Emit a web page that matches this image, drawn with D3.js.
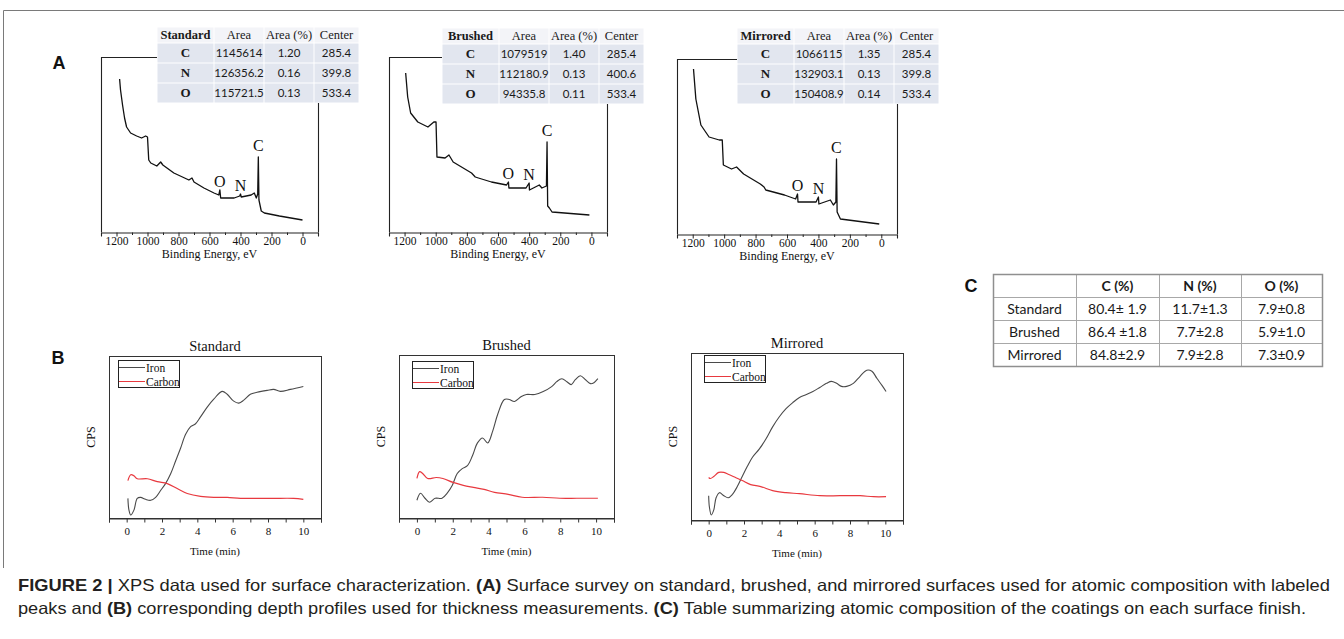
<!DOCTYPE html>
<html>
<head>
<meta charset="utf-8">
<script src="https://cdn.jsdelivr.net/npm/d3@7"></script>
<style>
body { margin: 0; background: #fff; }
text { font-kerning: normal; }
</style>
</head>
<body>
<svg id="fig" width="1344" height="639"></svg>
<script>

// ---- data ----
var surfaces = ["Standard", "Brushed", "Mirrored"];
var elements = ["C", "N", "O"];
var peakColumns = ["Area", "Area (%)", "Center"];

var areaStandard = ["1145614", "126356.2", "115721.5"];
var areaPctStandard = ["1.20", "0.16", "0.13"];
var centerStandard = [285.4, 399.8, 533.4];

var areaBrushed = ["1079519", "112180.9", "94335.8"];
var areaPctBrushed = ["1.40", "0.13", "0.11"];
var centerBrushed = [285.4, 400.6, 533.4];

var areaMirrored = ["1066115", "132903.1", "150408.9"];
var areaPctMirrored = ["1.35", "0.13", "0.14"];
var centerMirrored = [285.4, 399.8, 533.4];

// survey spectra: [binding energy eV, intensity (a.u.)]
var surveyStandard = [[1180,153],[1174,142],[1161,127],[1148,114],[1135,105],[1109,99],[1070,96],[1038,94],
  [1012,96],[1000,95],[992,72],[979,69],[940,66],[915,70],[901,67],[830,59],[733,52],[713,54],[700,50],
  [636,44],[571,39],[540,37],[533,42],[528,34],[441,34],[405,36],[400,38],[395,35],[331,37],[311,39],
  [298,34],[289,38],[285,75],[281,32],[266,21],[246,19],[149,16],[0,12]];
var surveyBrushed = [[1193,159],[1180,135],[1161,119],[1115,110],[1050,105],[1012,110],[998,110],[992,75],
  [940,74],[915,77],[888,70],[770,59],[746,55],[726,54],[642,50],[545,47],[533,50],[530,44],[420,44],
  [400,49],[398,42],[335,47],[318,44],[289,46],[285,90],[281,26],[270,24],[253,20],[13,17]];
var surveyMirrored = [[1195,165],[1180,135],[1148,109],[1096,97],[1031,94],[1012,94],[1005,69],[953,65],
  [921,67],[876,60],[770,50],[746,47],[735,44],[616,39],[545,35],[533,40],[530,32],[415,32],[400,37],
  [397,30],[324,34],[305,29],[289,32],[285,75],[281,22],[260,15],[13,10]];

// depth profiles: [time min, CPS (a.u.)]
var ironStandard = [[0.07,20],[0.13,8],[0.23,3],[0.41,8],[0.6,20],[0.79,21],[1.07,19],[1.36,18],[1.64,21],
  [1.92,28],[2.2,35],[2.49,45],[2.77,58],[3.05,71],[3.33,85],[3.62,93],[3.9,96],[4.18,103],[4.56,113],
  [4.93,121],[5.4,129],[5.69,126],[6.06,119],[6.35,117],[6.63,120],[7.0,126],[7.38,128],[7.95,130],
  [8.32,131],[8.7,129],[9.27,131],[10.0,134]];
var carbonStandard = [[0.07,38],[0.23,44],[0.41,43],[0.6,40],[1.17,40],[1.73,37],[2.3,35],[2.86,30],
  [3.43,25],[4.18,22],[4.93,21],[5.69,21],[6.44,20],[7.38,20],[8.32,20],[9.45,20],[10.0,19]];
var ironBrushed = [[0.0,18],[0.2,25],[0.45,20],[0.7,16],[1.02,20],[1.4,20],[1.68,25],[1.97,33],[2.25,45],
  [2.53,50],[2.82,53],[3.1,63],[3.38,76],[3.66,81],[3.95,76],[4.23,88],[4.51,105],[4.88,120],[5.15,120],
  [5.45,118],[5.83,123],[6.11,125],[6.58,125],[7.05,128],[7.52,133],[7.8,138],[8.09,141],[8.37,138],
  [8.61,135],[8.84,140],[9.12,144],[9.41,140],[9.69,136],[9.88,137],[10.1,141]];
var carbonBrushed = [[0.0,40],[0.15,47],[0.32,45],[0.6,40],[1.08,41],[1.45,40],[2.02,36],[2.59,33],
  [3.15,31],[3.75,29],[4.33,26],[5.1,24],[5.87,21],[7.02,21],[7.98,20],[8.93,20],[9.7,20],[10.1,20]];
var ironMirrored = [[0.0,24],[0.04,13],[0.15,5],[0.29,10],[0.42,22],[0.61,27],[0.86,24],[1.1,22],
  [1.33,25],[1.62,33],[1.9,43],[2.19,53],[2.48,62],[2.86,70],[3.24,80],[3.62,92],[4.0,102],[4.38,110],
  [4.76,116],[5.14,121],[5.53,124],[5.9,127],[6.29,131],[6.67,135],[6.95,137],[7.24,135],[7.52,132],
  [7.81,132],[8.19,135],[8.57,142],[8.95,148],[9.24,147],[9.52,140],[9.81,133],[10.04,127]];
var carbonMirrored = [[0.0,42],[0.1,41],[0.29,43],[0.57,47],[0.86,47],[1.14,45],[1.52,42],[1.9,39],
  [2.38,35],[2.95,33],[3.62,29],[4.38,27],[5.14,26],[6.29,24],[7.43,24],[8.57,24],[9.33,23],[10.04,23]];

// atomic composition table (C)
var compColumns = ["C (%)", "N (%)", "O (%)"];
var compStandard = ["80.4\u00b1 1.9", "11.7\u00b11.3", "7.9\u00b10.8"];
var compBrushed = ["86.4 \u00b11.8", "7.7\u00b12.8", "5.9\u00b11.0"];
var compMirrored = ["84.8\u00b12.9", "7.9\u00b12.8", "7.3\u00b10.9"];

// ---- layout ----
var serif = "'Liberation Serif', 'Times New Roman', serif";
var sans = "'Liberation Sans', Arial, sans-serif";
var calib = "Lato, 'Open Sans', sans-serif";
var carbonColor = "#e8393f";
var ironColor = "#4a4a4a";

var svg = d3.select("#fig");
svg.append("rect").attr("width", 1344).attr("height", 639).attr("fill", "#fff");

// outer figure frame (top & left)
svg.append("path")
  .attr("d", "M3.5,568 V10.5 H1344")
  .attr("fill", "none").attr("stroke", "#7a7a7a").attr("stroke-width", 1);

function panelLetter(txt, x, y) {
  svg.append("text").attr("x", x).attr("y", y)
    .attr("font-family", sans).attr("font-weight", "bold").attr("font-size", 18)
    .attr("text-anchor", "middle").attr("fill", "#111").text(txt);
}
panelLetter("A", 59, 69);
panelLetter("B", 58, 364);
panelLetter("C", 971, 292);

// ---- survey (A) ----
function drawSurvey(spec, centers, table, lay) {
  var g = svg.append("g");
  var x = d3.scaleLinear().domain([1300, -100]).range([lay.x, lay.x + lay.w]);
  var y = d3.scaleLinear().domain([0, 175]).range([lay.y + lay.h, lay.y]);

  // frame
  g.append("path")
    .attr("d", "M" + (lay.x + 0.5) + "," + (lay.y + lay.h) + " V" + (lay.y + 0.5) + " H" + (lay.x + lay.w + 0.5) + " V" + (lay.y + lay.h))
    .attr("fill", "none").attr("stroke", "#222").attr("stroke-width", 1.1);

  var ax = d3.axisBottom(x).tickValues(d3.range(-100, 1301, 100))
    .tickSizeOuter(0).tickSize(4)
    .tickFormat(function(d) { return (d % 200 === 0 && d >= 0 && d <= 1200) ? d : ""; });
  var axg = g.append("g").attr("transform", "translate(0," + (lay.y + lay.h + 0.5) + ")").call(ax);
  axg.select(".domain").attr("stroke", "#222").attr("stroke-width", 1.1);
  axg.selectAll(".tick line").attr("stroke", "#222")
    .attr("y2", function(d) { return d % 200 === 0 ? 4 : 2.5; });
  axg.selectAll(".tick text").attr("font-family", serif).attr("font-size", 11.5).attr("fill", "#111").attr("dy", "0.55em").attr("y", 6);
  g.append("text").attr("x", lay.x + lay.w / 2).attr("y", lay.y + lay.h + 26)
    .attr("text-anchor", "middle").attr("font-family", serif).attr("font-size", 12).attr("fill", "#111")
    .text("Binding Energy, eV");

  var line = d3.line().x(function(d) { return x(d[0]); }).y(function(d) { return y(d[1]); });
  g.append("path").datum(spec).attr("d", line)
    .attr("fill", "none").attr("stroke", "#111").attr("stroke-width", 1.3).attr("stroke-linejoin", "round");

  // peak labels
  elements.forEach(function(el, i) {
    var c = centers[i];
    var near = spec.filter(function(p) { return Math.abs(p[0] - c) < 8; });
    var top = d3.max(near, function(p) { return p[1]; });
    g.append("text").attr("x", x(c)).attr("y", y(top) - (el === "C" ? 6 : 3))
      .attr("text-anchor", "middle").attr("font-family", serif).attr("font-size", 16).attr("fill", "#111")
      .text(el);
  });

  // table overlay
  var colW = [57, 50, 50, 45];
  var rowH = [16, 20, 20, 20];
  var tg = g.append("g").attr("transform", "translate(" + lay.tx + "," + lay.ty + ")");
  var cx = [0];
  colW.forEach(function(w, i) { cx.push(cx[i] + w); });
  var ry = [0];
  rowH.forEach(function(h, i) { ry.push(ry[i] + h); });
  tg.append("rect").attr("width", cx[4]).attr("height", ry[4]).attr("fill", "#fff");
  var header = [table.name].concat(peakColumns);
  for (var r = 0; r < 4; r++) {
    for (var c = 0; c < 4; c++) {
      tg.append("rect").attr("x", cx[c] + 0.5).attr("y", ry[r] + 0.5)
        .attr("width", colW[c] - 1).attr("height", rowH[r] - 1)
        .attr("fill", r === 0 ? "#f3f4f8" : "#e2e6ef");
      var txt, fam, wt, fs;
      if (r === 0) {
        txt = header[c]; fam = serif; wt = c === 0 ? "bold" : "normal"; fs = 12.5;
      } else if (c === 0) {
        txt = elements[r - 1]; fam = serif; wt = "bold"; fs = 13;
      } else {
        txt = [table.area, table.pct, table.center][c - 1][r - 1];
        if (c === 3) txt = d3.format(".1f")(txt);
        fam = calib; wt = "normal"; fs = 11.5;
      }
      tg.append("text").attr("x", cx[c] + colW[c] / 2).attr("y", ry[r] + rowH[r] / 2 + 4.3)
        .attr("text-anchor", "middle").attr("font-family", fam).attr("font-weight", wt)
        .attr("font-size", fs).attr("fill", "#1a1a1a").text(txt);
    }
  }
}

drawSurvey(surveyStandard, centerStandard,
  {name: "Standard", area: areaStandard, pct: areaPctStandard, center: centerStandard},
  {x: 101, y: 57, w: 217, h: 175, tx: 157, ty: 27});
drawSurvey(surveyBrushed, centerBrushed,
  {name: "Brushed", area: areaBrushed, pct: areaPctBrushed, center: centerBrushed},
  {x: 389, y: 57, w: 218, h: 175, tx: 442, ty: 28});
drawSurvey(surveyMirrored, centerMirrored,
  {name: "Mirrored", area: areaMirrored, pct: areaPctMirrored, center: centerMirrored},
  {x: 677, y: 59, w: 220, h: 175, tx: 737, ty: 28});

// ---- depth profiles (B) ----
function drawDepth(title, iron, carbon, lay) {
  var g = svg.append("g");
  var x = d3.scaleLinear().domain([-1, 11]).range([lay.x, lay.x + lay.w]);
  var y = d3.scaleLinear().domain([0, 165]).range([lay.y + lay.h, lay.y]);

  g.append("rect").attr("x", lay.x + 0.5).attr("y", lay.y + 0.5).attr("width", lay.w).attr("height", lay.h)
    .attr("fill", "none").attr("stroke", "#333").attr("stroke-width", 1);

  var ax = d3.axisBottom(x).tickValues(d3.range(-1, 12, 1)).tickSizeOuter(0).tickSize(4)
    .tickFormat(function(d) { return (d % 2 === 0 && d >= 0 && d <= 10) ? d : ""; });
  var axg = g.append("g").attr("transform", "translate(0," + (lay.y + lay.h + 0.5) + ")").call(ax);
  axg.select(".domain").attr("stroke", "#333");
  axg.selectAll(".tick line").attr("stroke", "#333");
  axg.selectAll(".tick text").attr("font-family", serif).attr("font-size", 11).attr("fill", "#111").attr("y", 9);
  g.append("text").attr("x", lay.x + lay.w / 2).attr("y", lay.y + lay.h + 37)
    .attr("text-anchor", "middle").attr("font-family", serif).attr("font-size", 11).attr("fill", "#111")
    .text("Time (min)");

  g.append("text").attr("x", lay.x + lay.w / 2).attr("y", lay.y - 5)
    .attr("text-anchor", "middle").attr("font-family", serif).attr("font-size", 14.5).attr("fill", "#111")
    .text(title);
  g.append("text").attr("transform", "translate(" + (lay.x - 14) + "," + (lay.y + lay.h / 2) + ") rotate(-90)")
    .attr("text-anchor", "middle").attr("font-family", serif).attr("font-size", 12).attr("fill", "#111")
    .text("CPS");

  var line = d3.line().curve(d3.curveCatmullRom.alpha(0.5))
    .x(function(d) { return x(d[0]); }).y(function(d) { return y(d[1]); });
  g.append("path").datum(iron).attr("d", line).attr("fill", "none").attr("stroke", ironColor).attr("stroke-width", 1.1);
  g.append("path").datum(carbon).attr("d", line).attr("fill", "none").attr("stroke", carbonColor).attr("stroke-width", 1.2);

  // legend
  var lg = g.append("g").attr("transform", "translate(" + lay.lx + "," + lay.ly + ")");
  lg.append("rect").attr("x", 0.5).attr("y", 0.5).attr("width", 61).attr("height", 27)
    .attr("fill", "#fff").attr("stroke", "#222");
  [["Iron", ironColor], ["Carbon", carbonColor]].forEach(function(d, i) {
    lg.append("line").attr("x1", 1).attr("x2", 27).attr("y1", 7.5 + i * 14).attr("y2", 7.5 + i * 14)
      .attr("stroke", d[1]).attr("stroke-width", 1);
    lg.append("text").attr("x", 28).attr("y", 11.5 + i * 14).attr("font-family", serif).attr("font-size", 11.5)
      .attr("fill", "#111").text(d[0]);
  });
}

drawDepth("Standard", ironStandard, carbonStandard, {x: 109, y: 356, w: 212, h: 162, lx: 118, ly: 360});
drawDepth("Brushed", ironBrushed, carbonBrushed, {x: 399, y: 355, w: 215, h: 163, lx: 412, ly: 361});
drawDepth("Mirrored", ironMirrored, carbonMirrored, {x: 691, y: 353, w: 212, h: 167, lx: 704, ly: 355});

// ---- composition table (C) ----
(function() {
  var tx = 993, ty = 274, colW = [83, 83, 82, 81], rowH = 23;
  var rows = [[""].concat(compColumns),
    [surfaces[0]].concat(compStandard),
    [surfaces[1]].concat(compBrushed),
    [surfaces[2]].concat(compMirrored)];
  var g = svg.append("g").attr("transform", "translate(" + tx + "," + ty + ")");
  var cx = [0];
  colW.forEach(function(w, i) { cx.push(cx[i] + w); });
  rows.forEach(function(row, r) {
    row.forEach(function(txt, c) {
      g.append("rect").attr("x", cx[c] + 0.5).attr("y", r * rowH + 0.5).attr("width", colW[c]).attr("height", rowH)
        .attr("fill", "#fff").attr("stroke", "#a8a8a8").attr("stroke-width", 1);
      g.append("text").attr("x", cx[c] + colW[c] / 2).attr("y", r * rowH + rowH / 2 + 5)
        .attr("text-anchor", "middle").attr("font-family", calib)
        .attr("font-weight", r === 0 ? "bold" : "normal").attr("font-size", 14)
        .attr("fill", "#1a1a1a").text(txt);
    });
  });
  g.append("rect").attr("x", 0.5).attr("y", 0.5).attr("width", cx[4]).attr("height", rowH * 4)
    .attr("fill", "none").attr("stroke", "#8f8f8f").attr("stroke-width", 1.5);
})();

// ---- caption ----
var captionLines = [
  [["FIGURE 2 |", true], [" XPS data used for surface characterization. ", false], ["(A)", true],
   [" Surface survey on standard, brushed, and mirrored surfaces used for atomic composition with labeled", false]],
  [["peaks and ", false], ["(B)", true], [" corresponding depth profiles used for thickness measurements. ", false],
   ["(C)", true], [" Table summarizing atomic composition of the coatings on each surface finish.", false]]
];
var captionWidths = [1312, 1288];
captionLines.forEach(function(parts, i) {
  var t = svg.append("text").attr("x", 18).attr("y", 591 + i * 23)
    .attr("font-family", sans).attr("font-size", 16.5).attr("fill", "#231f20")
    .attr("textLength", captionWidths[i]).attr("lengthAdjust", "spacingAndGlyphs")
    .attr("xml:space", "preserve");
  parts.forEach(function(p) {
    t.append("tspan").attr("font-weight", p[1] ? "bold" : "normal").text(p[0]);
  });
});

</script>
</body>
</html>
